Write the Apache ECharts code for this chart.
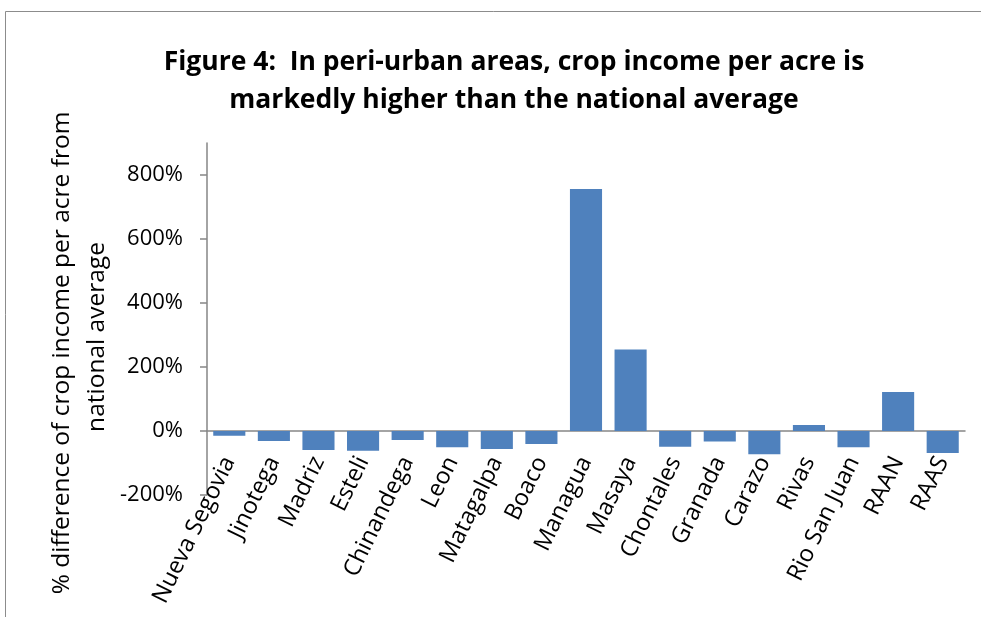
<!DOCTYPE html>
<html>
<head>
<meta charset="utf-8">
<script src="https://cdn.jsdelivr.net/npm/echarts@6/dist/echarts.min.js"></script>
<style>
  html, body { margin: 0; padding: 0; background: #fff; }
  #chart { width: 981px; height: 617px; }
</style>
</head>
<body>
<div id="chart"></div>
<script>
// Departments of Nicaragua
const regions = ['Nueva Segovia', 'Jinotega', 'Madriz', 'Esteli', 'Chinandega', 'Leon',
  'Matagalpa', 'Boaco', 'Managua', 'Masaya', 'Chontales', 'Granada', 'Carazo',
  'Rivas', 'Rio San Juan', 'RAAN', 'RAAS'];

// % difference of crop income per acre from the national average
const pctDifference = [-15, -31, -59, -62, -28, -51, -56, -41, 756, 255, -49, -33, -73,
  19, -51, 122, -69];

// Labelled y ticks
const yTicks = [-200, 0, 200, 400, 600, 800];

const titleLines = ['Figure 4:  In peri-urban areas, crop income per acre is',
  'markedly higher than the national average'];
const yTitleLines = ['% difference of crop income per acre from', 'national average'];

const FONT = '"Open Sans", "Noto Sans", sans-serif';
const AXIS_GREY = '#868686';

// Plot geometry: y range -200..900 over the grid height; the category axis sits on 0
const Y_MIN = -200, Y_MAX = 900;
const GRID_TOP = 143, GRID_BOTTOM = 122, CHART_H = 617;
const gridH = CHART_H - GRID_TOP - GRID_BOTTOM;
const zeroOffset = -gridH * (0 - Y_MIN) / (Y_MAX - Y_MIN);

const chart = echarts.init(document.getElementById('chart'), null, { renderer: 'canvas' });

chart.setOption({
  animation: false,
  backgroundColor: '#ffffff',
  title: {
    text: titleLines.join('\n'),
    left: 509,
    top: 38,
    textAlign: 'center',
    textStyle: {
      fontFamily: FONT,
      fontWeight: 'bold',
      fontSize: 26.5,
      lineHeight: 38,
      color: '#000'
    }
  },
  grid: { left: 207, right: 16, top: GRID_TOP, bottom: GRID_BOTTOM, outerBoundsMode: 'none', containLabel: false },
  xAxis: {
    type: 'category',
    data: regions,
    position: 'bottom',
    offset: zeroOffset,
    axisLine: { onZero: false, lineStyle: { color: AXIS_GREY, width: 1.5 } },
    axisTick: { show: false },
    axisLabel: {
      rotate: 64,
      margin: 27,
      interval: 0,
      fontFamily: FONT,
      fontSize: 23.5,
      color: '#000'
    }
  },
  yAxis: {
    type: 'value',
    min: Y_MIN,
    max: Y_MAX,
    interval: 100,
    splitLine: { show: false },
    axisLine: { show: true, lineStyle: { color: AXIS_GREY, width: 1.5 } },
    axisTick: {
      show: true,
      length: 7,
      customValues: yTicks,
      lineStyle: { color: AXIS_GREY, width: 1.5 }
    },
    axisLabel: {
      customValues: yTicks,
      margin: 24,
      fontFamily: FONT,
      fontSize: 22,
      color: '#000',
      formatter: v => v + '%'
    }
  },
  graphic: [
    {
      type: 'rect',
      shape: { x: 5.5, y: 11.5, width: 1000, height: 700 },
      style: { fill: null, stroke: '#8c8c8c', lineWidth: 1 },
      silent: true
    },
    {
      type: 'text',
      x: 62, y: 353,
      rotation: Math.PI / 2,
      style: {
        text: yTitleLines[0],
        font: '24.5px ' + FONT,
        fill: '#000',
        textAlign: 'center',
        textVerticalAlign: 'middle'
      }
    },
    {
      type: 'text',
      x: 97, y: 337,
      rotation: Math.PI / 2,
      style: {
        text: yTitleLines[1],
        font: '24.5px ' + FONT,
        fill: '#000',
        textAlign: 'center',
        textVerticalAlign: 'middle'
      }
    }
  ],
  series: [{
    type: 'bar',
    data: pctDifference,
    barCategoryGap: '28%',
    itemStyle: { color: '#4F81BD' }
  }]
});
</script>
</body>
</html>
